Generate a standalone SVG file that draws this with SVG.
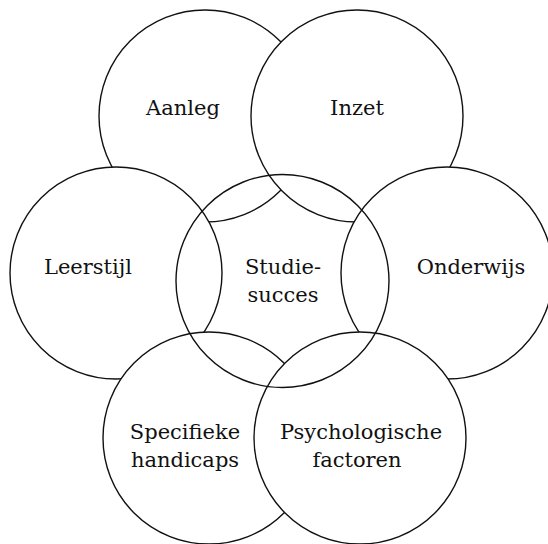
<svg xmlns="http://www.w3.org/2000/svg" width="548" height="544" viewBox="0 0 548 544">
  <style>
    .ring { fill: #ffffff; stroke: #111111; stroke-width: 1.4; }
    .core { fill: none; stroke: #111111; stroke-width: 1.4; }
    .label { font-family: "DejaVu Serif", "Liberation Serif", serif; font-size: 21px; fill: #111111; text-anchor: middle; }
  </style>
  <rect width="548" height="544" fill="#ffffff"/>
  <!-- outer factors: white-filled so later circles hide the arcs beneath them -->
  <g id="aanleg">
    <circle class="ring" cx="205" cy="116" r="106"/>
    <text class="label" x="183" y="115">Aanleg</text>
  </g>
  <g id="inzet">
    <circle class="ring" cx="357" cy="116" r="106"/>
    <text class="label" x="357" y="115">Inzet</text>
  </g>
  <g id="onderwijs">
    <circle class="ring" cx="447" cy="273" r="106"/>
    <text class="label" x="471" y="274">Onderwijs</text>
  </g>
  <g id="leerstijl">
    <circle class="ring" cx="116" cy="273" r="106"/>
    <text class="label" x="88" y="274">Leerstijl</text>
  </g>
  <g id="specifieke-handicaps">
    <circle class="ring" cx="209" cy="438" r="106"/>
    <text class="label" x="185" y="439">Specifieke</text>
    <text class="label" x="185" y="467">handicaps</text>
  </g>
  <g id="psychologische-factoren">
    <circle class="ring" cx="360" cy="438" r="106"/>
    <text class="label" x="361" y="439">Psychologische</text>
    <text class="label" x="357" y="467">factoren</text>
  </g>
  <!-- central outcome: outline only, every overlap stays visible -->
  <g id="studiesucces">
    <circle class="core" cx="282.5" cy="281" r="106.5"/>
    <text class="label" x="283" y="274">Studie-</text>
    <text class="label" x="283" y="302">succes</text>
  </g>
  <g id="connectors"/>
</svg>
